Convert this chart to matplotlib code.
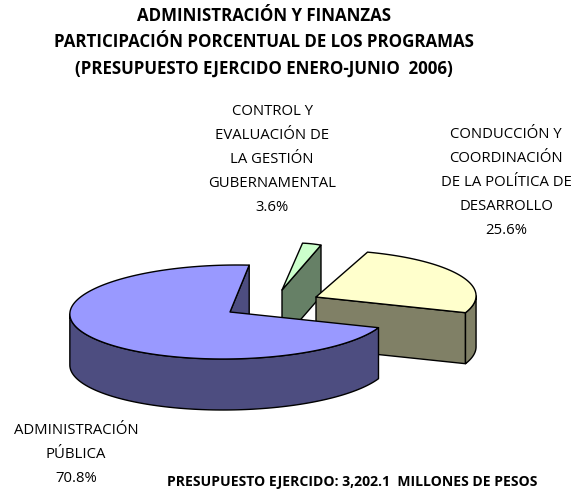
import numpy as np
import matplotlib
matplotlib.use("Agg")
import matplotlib.pyplot as plt
from matplotlib.patches import Polygon

FONT = "Open Sans"
title_lines = ["ADMINISTRACIÓN Y FINANZAS",
               "PARTICIPACIÓN PORCENTUAL DE LOS PROGRAMAS",
               "(PRESUPUESTO EJERCIDO ENERO-JUNIO  2006)"]
footer = "PRESUPUESTO EJERCIDO: 3,202.1  MILLONES DE PESOS"

# Slices, counter-clockwise from the start angle
names = ["CONDUCCIÓN Y\nCOORDINACIÓN\nDE LA POLÍTICA DE\nDESARROLLO",
         "CONTROL Y\nEVALUACIÓN DE\nLA GESTIÓN\nGUBERNAMENTAL",
         "ADMINISTRACIÓN\nPÚBLICA"]
values = [25.6, 3.6, 70.8]
top_colors = ["#FFFFCC", "#CCFFCC", "#9999FF"]
side_colors = ["#808066", "#668066", "#4D4D80"]

# Layout (pixels)
start_angle = -19.5
apex_x = [316, 282, 230]
apex_y = [297, 290, 312]
radius_x = [160, 86, 160]
shear = [4, 14, 7]
radius_y = 47
depth = 51
label_x = [506, 272, 76]
label_y = [182.5, 159.5, 454.5]

fig = plt.figure(figsize=(5.8, 4.9), dpi=100)
ax = fig.add_axes([0, 0, 1, 1])
ax.set_xlim(0, 580)
ax.set_ylim(490, 0)
ax.axis("off")


def rim(i, deg):
    t = np.radians(deg)
    return (apex_x[i] + radius_x[i] * np.cos(t) + shear[i] * np.sin(t),
            apex_y[i] - radius_y * np.sin(t))


def face(xs, ys, color, z):
    ax.add_patch(Polygon(np.column_stack([xs, ys]), closed=True, facecolor=color,
                         edgecolor="black", linewidth=1.0, joinstyle="round", zorder=z))


edges = start_angle + np.cumsum([0] + values) * 3.6
draw_order = [1, 0, 2]  # back to front
for n, i in enumerate(draw_order):
    a0, a1 = edges[i], edges[i + 1]
    base = 10 * (n + 1)
    ax0, ay0 = apex_x[i], apex_y[i]

    # cut face that looks toward the viewer
    rx, ry = rim(i, a0)
    face([ax0, rx, rx, ax0], [ay0, ry, ry + depth, ay0 + depth], side_colors[i], base)

    # outer wall: the part of the rim on the front half of the ellipse
    extreme = 180 + np.degrees(np.arctan2(shear[i], radius_x[i]))
    lo, hi = max(a0, extreme), a1
    if a0 < 0:
        lo, hi = a0 + 360, 360 + np.degrees(np.arctan2(shear[i], radius_x[i]))
    if hi > lo:
        t = np.linspace(lo, hi, 120)
        wx, wy = rim(i, t)
        face(np.r_[wx, wx[::-1]], np.r_[wy, wy[::-1] + depth], side_colors[i], base + 1)

    # top face
    t = np.linspace(a0, a1, 240)
    tx, ty = rim(i, t)
    face(np.r_[ax0, tx], np.r_[ay0, ty], top_colors[i], base + 2)

    ax.text(label_x[i], label_y[i], f"{names[i]}\n{values[i]:.1f}%", ha="center", va="center",
            family=FONT, fontsize=10.7, color="black", linespacing=1.81, zorder=100)

for line, y in zip(title_lines, [16, 42, 69]):
    ax.text(264, y, line, ha="center", va="center", family=FONT, fontsize=12.2,
            fontweight="bold", color="black")
ax.text(352, 482, footer, ha="center", va="center", family=FONT, fontsize=10.1,
        fontweight="bold", color="black")

fig.savefig("out.png", dpi=100, facecolor="white")
